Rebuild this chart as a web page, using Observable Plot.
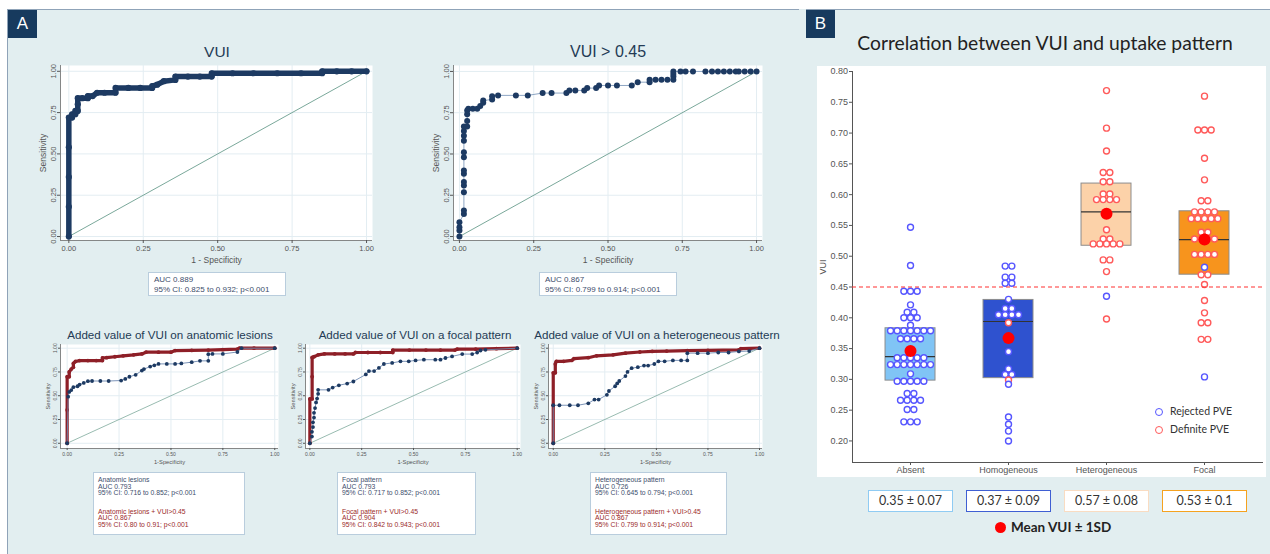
<!DOCTYPE html>
<html><head><meta charset="utf-8">
<script src="https://cdn.jsdelivr.net/npm/d3@7"></script>
<script src="https://cdn.jsdelivr.net/npm/@observablehq/plot@0.6"></script>
<style>
html,body{margin:0;padding:0}
body{width:1270px;height:554px;position:relative;overflow:hidden;background:#fff;font-family:"Liberation Sans",Arial,sans-serif}
.abs{position:absolute}
.panel{position:absolute;background:#e2eef0;border:1.5px solid #8fa3b8;box-sizing:border-box}
.tag{position:absolute;background:#173a5e;color:#fff;font-family:"Liberation Sans",Arial,sans-serif;font-size:17px;text-align:center;line-height:28px;width:29px;height:28px}
.rtitle{position:absolute;color:#243b55;white-space:nowrap;transform:translate(-50%,-50%)}
.aucbox{position:absolute;background:#fff;border:1px solid #b9cddd;box-sizing:border-box;color:#3d4d6b;white-space:nowrap}
.vbox{position:absolute;background:#fff;border:1.6px solid;box-sizing:border-box;text-align:center;font-family:Lato,"Open Sans",sans-serif;font-size:12.5px;color:#333;line-height:19px}
</style></head><body>
<script>
// ---------------- DATA ----------------
const rocTicks = [0, 0.25, 0.5, 0.75, 1];
const diagonal = [0, 1];

// Panel A, top: ROC points [1 - specificity, sensitivity]
const rocVUI = [[0,0],[0,0.18],[0,0.36],[0,0.54],[0,0.72],[0.011,0.72],[0.011,0.74],[0.022,0.74],[0.022,0.76],[0.03,0.76],[0.03,0.80],[0.03,0.837],[0.045,0.837],[0.064,0.837],[0.064,0.85],[0.08,0.85],[0.095,0.87],[0.12,0.87],[0.157,0.87],[0.157,0.899],[0.2,0.899],[0.24,0.899],[0.28,0.899],[0.28,0.91],[0.297,0.919],[0.319,0.94],[0.358,0.948],[0.358,0.968],[0.4,0.968],[0.44,0.968],[0.48,0.968],[0.48,0.988],[0.55,0.988],[0.62,0.988],[0.7,0.988],[0.78,0.988],[0.851,0.988],[0.851,1],[0.9,1],[0.95,1],[1,1]];
const rocVUI45 = [[0,0],[0,0.036],[0,0.057],[0,0.087],[0.015,0.137],[0.015,0.158],[0.015,0.269],[0.015,0.309],[0.015,0.33],[0.015,0.38],[0.015,0.40],[0.015,0.48],[0.015,0.51],[0.015,0.58],[0.015,0.61],[0.015,0.64],[0.015,0.667],[0.026,0.667],[0.026,0.70],[0.026,0.74],[0.026,0.764],[0.03,0.774],[0.045,0.774],[0.06,0.774],[0.07,0.79],[0.08,0.81],[0.08,0.824],[0.11,0.83],[0.11,0.85],[0.13,0.855],[0.19,0.855],[0.23,0.855],[0.28,0.869],[0.31,0.869],[0.36,0.869],[0.37,0.885],[0.39,0.885],[0.42,0.885],[0.43,0.899],[0.46,0.899],[0.47,0.915],[0.50,0.915],[0.53,0.915],[0.58,0.915],[0.60,0.935],[0.64,0.935],[0.64,0.949],[0.66,0.949],[0.68,0.949],[0.70,0.949],[0.72,0.949],[0.72,0.97],[0.72,0.985],[0.72,1],[0.744,1],[0.761,1],[0.786,1],[0.828,1],[0.85,1],[0.87,1],[0.89,1],[0.91,1],[0.93,1],[0.94,1],[0.96,1],[0.98,1],[1,1]];

// Panel A, bottom: pattern alone (blue) vs pattern + VUI>0.45 (red)
const anatomicAlone = [[0,0],[0.005,0.49],[0.01,0.54],[0.02,0.56],[0.03,0.59],[0.05,0.60],[0.06,0.617],[0.08,0.635],[0.10,0.653],[0.12,0.655],[0.16,0.655],[0.2,0.655],[0.26,0.66],[0.28,0.677],[0.30,0.70],[0.33,0.72],[0.36,0.765],[0.37,0.78],[0.40,0.807],[0.42,0.82],[0.44,0.835],[0.48,0.835],[0.52,0.835],[0.55,0.84],[0.60,0.853],[0.64,0.867],[0.68,0.867],[0.68,0.937],[0.70,0.94],[0.75,0.94],[0.82,0.96],[0.84,1],[1,1]];
const anatomicVUI = [[0,0],[0,0.35],[0,0.70],[0.01,0.70],[0.01,0.75],[0.02,0.78],[0.03,0.80],[0.03,0.84],[0.04,0.86],[0.06,0.87],[0.10,0.87],[0.14,0.87],[0.17,0.87],[0.17,0.898],[0.19,0.90],[0.23,0.91],[0.27,0.92],[0.32,0.93],[0.36,0.94],[0.38,0.958],[0.44,0.958],[0.50,0.958],[0.52,0.975],[0.6,0.977],[0.68,0.98],[0.75,0.985],[0.82,0.99],[0.83,1],[0.9,1],[1,1]];
const focalAlone = [[0,0],[0.01,0.07],[0.01,0.12],[0.015,0.17],[0.015,0.22],[0.02,0.27],[0.02,0.32],[0.025,0.37],[0.03,0.43],[0.035,0.47],[0.04,0.52],[0.04,0.562],[0.09,0.562],[0.11,0.586],[0.14,0.61],[0.18,0.628],[0.21,0.65],[0.27,0.724],[0.285,0.759],[0.31,0.759],[0.333,0.793],[0.357,0.834],[0.397,0.845],[0.437,0.862],[0.477,0.862],[0.51,0.872],[0.55,0.879],[0.605,0.879],[0.63,0.879],[0.654,0.897],[0.686,0.914],[0.735,0.938],[0.783,0.938],[0.807,0.955],[0.823,0.976],[0.847,0.983],[1,1]];
const focalVUI = [[0,0],[0,0.466],[0.011,0.466],[0.011,0.70],[0.011,0.903],[0.02,0.91],[0.04,0.93],[0.07,0.94],[0.12,0.94],[0.17,0.94],[0.21,0.94],[0.22,0.955],[0.28,0.955],[0.34,0.955],[0.40,0.955],[0.40,0.98],[0.48,0.98],[0.56,0.98],[0.63,0.98],[0.70,0.98],[0.71,0.99],[0.8,0.99],[0.9,0.995],[1,1]];
const heterogeneousAlone = [[0,0],[0,0.40],[0.03,0.40],[0.08,0.40],[0.12,0.40],[0.17,0.42],[0.20,0.46],[0.22,0.46],[0.26,0.51],[0.27,0.55],[0.30,0.60],[0.31,0.63],[0.32,0.655],[0.35,0.707],[0.36,0.75],[0.38,0.79],[0.41,0.80],[0.44,0.817],[0.46,0.817],[0.49,0.834],[0.51,0.862],[0.54,0.862],[0.58,0.872],[0.62,0.872],[0.65,0.872],[0.65,0.948],[0.70,0.948],[0.75,0.948],[0.80,0.955],[0.85,0.955],[0.90,0.966],[0.95,0.97],[1,1]];
const heterogeneousVUI = [[0,0],[0,0.40],[0,0.741],[0.01,0.741],[0.01,0.834],[0.015,0.862],[0.05,0.862],[0.09,0.872],[0.10,0.89],[0.17,0.90],[0.21,0.92],[0.29,0.93],[0.35,0.948],[0.42,0.96],[0.48,0.966],[0.55,0.97],[0.65,0.975],[0.75,0.978],[0.90,0.983],[0.91,0.995],[1,1]];

const topTitles = ["VUI", "VUI > 0.45"];
const topAUC = [["AUC 0.889","95% CI: 0.825 to 0.932; p<0.001"],["AUC 0.867","95% CI: 0.799 to 0.914; p<0.001"]];
const bottomTitles = ["Added value of VUI on anatomic lesions","Added value of VUI on a focal pattern","Added value of VUI on a heterogeneous pattern"];
const bottomAUCAlone = [["Anatomic lesions","AUC 0.793","95% CI: 0.716 to 0.852; p<0.001"],["Focal pattern","AUC 0.793","95% CI: 0.717 to 0.852; p<0.001"],["Heterogeneous pattern","AUC 0.726","95% CI: 0.645 to 0.794; p<0.001"]];
const bottomAUCVUI = [["Anatomic lesions + VUI>0.45","AUC 0.867","95% CI: 0.80 to 0.91; p<0.001"],["Focal pattern + VUI>0.45","AUC 0.904","95% CI: 0.842 to 0.943; p<0.001"],["Heterogeneous pattern + VUI>0.45","AUC 0.867","95% CI: 0.799 to 0.914; p<0.001"]];

// Panel B
const patterns = ["Absent","Homogeneous","Heterogeneous","Focal"];
const vuiQ1     = [0.298, 0.302, 0.517, 0.470];
const vuiMedian = [0.337, 0.394, 0.572, 0.527];
const vuiQ3     = [0.383, 0.429, 0.618, 0.573];
const vuiMean   = [0.346, 0.367, 0.569, 0.527];
const meanSD    = ["0.35 ± 0.07","0.37 ± 0.09","0.57 ± 0.08","0.53 ± 0.1"];
const vuiThreshold = 0.45;
const vuiTicks = [0.20,0.25,0.30,0.35,0.40,0.45,0.50,0.55,0.60,0.65,0.70,0.75,0.80];
// [VUI, number of lesions, "R" rejected PVE / "D" definite PVE]
const absentVUI = [[0.547,1,"R"],[0.485,1,"R"],[0.443,3,"R"],[0.421,1,"R"],[0.409,2,"R"],[0.400,3,"R"],[0.388,1,"R"],[0.379,7,"R"],[0.366,4,"R"],[0.335,5,"R"],[0.324,7,"R"],[0.309,1,"R"],[0.297,5,"R"],[0.277,2,"R"],[0.266,4,"R"],[0.251,2,"R"],[0.231,3,"R"]];
const homogeneousVUI = [[0.484,2,"R"],[0.466,2,"R"],[0.456,2,"R"],[0.430,1,"R"],[0.415,2,"R"],[0.405,4,"R"],[0.392,1,"D"],[0.345,1,"R"],[0.317,1,"R"],[0.308,2,"R"],[0.299,1,"D"],[0.292,1,"R"],[0.239,1,"R"],[0.227,1,"R"],[0.216,1,"R"],[0.200,1,"R"]];
const heterogeneousVUI_B = [[0.769,1,"D"],[0.708,1,"D"],[0.671,1,"D"],[0.636,2,"D"],[0.621,2,"D"],[0.601,2,"D"],[0.592,4,"D"],[0.543,1,"D"],[0.528,2,"D"],[0.520,5,"D"],[0.494,2,"D"],[0.475,1,"D"],[0.435,1,"R"],[0.398,1,"D"]];
const focalVUI_B = [[0.760,1,"D"],[0.705,3,"D"],[0.659,1,"D"],[0.624,1,"D"],[0.590,2,"D"],[0.572,4,"D"],[0.561,5,"D"],[0.539,2,"D"],[0.528,4,"D"],[0.503,4,"D"],[0.482,1,"R"],[0.470,2,"D"],[0.454,1,"D"],[0.428,1,"D"],[0.408,1,"D"],[0.392,2,"D"],[0.365,2,"D"],[0.304,1,"R"]];
const legendItems = ["Rejected PVE","Definite PVE"];

// ---------------- STYLE ----------------
const NAVY = "#1d3a62", MAROON = "#8e1f27", DIAG = "#6b9e8e";
const BLUE = "#5656ff", RED = "#ff5a5a";
const boxFills = ["#80c4f5","#2f52cf","#fcd2a9","#f7941d"];
const boxBorders = ["#8fcbf3","#3f5fd3","#f9dcc2","#f5a21f"];
const stataFont = "'Liberation Sans', Arial, sans-serif";

function add(el){document.body.appendChild(el);return el;}
function box(cls, css, html){const d=document.createElement("div");d.className=cls;Object.assign(d.style,css);if(html!=null)d.innerHTML=html;return add(d);}

// panels
box("panel",{left:"7px",top:"9px",width:"793px",height:"560px"});
box("panel",{left:"805px",top:"9px",width:"480px",height:"560px"});
box("abs",{left:"799px",top:"9px",width:"7px",height:"560px",background:"#e2eef0"});
box("tag",{left:"8px",top:"10px"},"A");
box("tag",{left:"806px",top:"10px"},"B");

function roc(o){
  const marks = [
    Plot.frame({fill:"white", stroke:null}),
    Plot.gridX(rocTicks,{stroke:"#e3edf2", strokeOpacity:1}),
    Plot.gridY(rocTicks,{stroke:"#e3edf2", strokeOpacity:1}),
    Plot.line(diagonal,{x:d=>d, y:d=>d, stroke:DIAG, strokeWidth:o.diagW}),
    Plot.ruleX([o.xd[0]],{stroke:"#6a6a6a", strokeWidth:0.8}),
    Plot.ruleY([o.yd[0]],{stroke:"#6a6a6a", strokeWidth:0.8}),
    Plot.axisX({ticks:rocTicks, tickFormat:".2f", tickSize:o.tick, tickPadding:o.pad, fontSize:o.fs, label:o.xLabel, labelAnchor:"center", labelArrow:"none", labelOffset:o.xlo}),
    Plot.axisY({ticks:rocTicks, tickFormat:".2f", tickSize:o.tick, tickPadding:o.pad, fontSize:o.fs, tickRotate:-90, label:"Sensitivity", labelAnchor:"center", labelArrow:"none", labelOffset:o.ylo})
  ];
  for (const s of o.series) {
    marks.push(Plot.line(s.data,{stroke:s.lineColor, strokeWidth:s.lw}));
    marks.push(Plot.dot(s.data,{fill:s.color, r:s.r, stroke:null}));
  }
  const svg = Plot.plot({
    width:o.w, height:o.h, marginLeft:o.ml, marginRight:o.mr, marginTop:o.mt, marginBottom:o.mb,
    x:{domain:o.xd}, y:{domain:o.yd},
    style:{background:"none", fontFamily:stataFont, color:"#555", overflow:"visible", fontSize:o.lfs+"px"},
    marks
  });
  svg.style.position="absolute"; svg.style.left=o.left+"px"; svg.style.top=o.top+"px";
  svg.querySelectorAll("[aria-label$='axis label'] text, [aria-label$='axis label']").forEach(t=>t.setAttribute("font-size", o.lfs));
  add(svg);
}

// top ROC charts
roc({left:22, top:60, w:358, h:205, ml:38, mr:8, mt:5, mb:25, xd:[-0.028,1.02], yd:[-0.024,1.035],
  fs:7.5, lfs:8.5, tick:3, pad:2, xlo:22, ylo:21, xLabel:"1 - Specificity", diagW:0.9,
  series:[{data:rocVUI, color:NAVY, lineColor:NAVY, lw:5.5, r:3.1}]});
roc({left:415, top:60, w:355, h:205, ml:38, mr:8, mt:5, mb:25, xd:[-0.02,1.02], yd:[-0.024,1.036],
  fs:7.5, lfs:8.5, tick:3, pad:2, xlo:22, ylo:21, xLabel:"1 - Specificity", diagW:0.9,
  series:[{data:rocVUI45, color:NAVY, lineColor:"#8ea6c4", lw:1, r:3}]});

// bottom ROC charts
const bottomSeries = [[anatomicVUI, anatomicAlone],[focalVUI, focalAlone],[heterogeneousVUI, heterogeneousAlone]];
const bottomLayout = [
  {left:30, ml:30, w:253, xd:[-0.032,1.018]},
  {left:275, ml:30, w:250, xd:[-0.021,1.016]},
  {left:518, ml:30, w:249, xd:[-0.023,1.0145]}
];
bottomLayout.forEach((L,i)=>{
  roc({left:L.left, top:340, w:L.w, h:125, ml:L.ml, mr:5, mt:4, mb:17, xd:L.xd, yd:[-0.055,1.039],
    fs:5, lfs:5.8, tick:2, pad:1.5, xlo:15, ylo:14.5, xLabel:"1-Specificity", diagW:0.7,
    series:[
      {data:bottomSeries[i][0], color:MAROON, lineColor:MAROON, lw:3.2, r:1.9},
      {data:bottomSeries[i][1], color:NAVY, lineColor:"#6d88b0", lw:0.9, r:1.9}
    ]});
});

// titles & AUC boxes panel A
box("rtitle",{left:"217px",top:"52px",fontSize:"15.5px"},topTitles[0]);
box("rtitle",{left:"608px",top:"52px",fontSize:"16px"},topTitles[1]);
[[148,138],[539,138]].forEach(([l,w],i)=>{
  box("aucbox",{left:l+"px",top:"272px",width:w+"px",height:"24px",fontSize:"8px",lineHeight:"10px",padding:"2px 0 0 5px"}, topAUC[i].join("<br>"));
});
[170,415,657].forEach((c,i)=>box("rtitle",{left:c+"px",top:"334px",fontSize:"11.6px"},bottomTitles[i]));
[[93,152],[337,139],[590,137]].forEach(([l,w],i)=>{
  const html = `<div style="color:#3d4d6b">${bottomAUCAlone[i].join("<br>")}</div><div style="color:#9b2a2a;margin-top:11.5px">${bottomAUCVUI[i].join("<br>")}</div>`;
  box("aucbox",{left:l+"px",top:"472px",width:w+"px",height:"63px",fontSize:"6.8px",lineHeight:"6.7px",padding:"4px 0 0 4px"}, html);
});

// ---------------- PANEL B ----------------
box("abs",{left:"817px",top:"66px",width:"449px",height:"411px",background:"#fff"});
box("abs",{left:"1045px",top:"42px",transform:"translate(-50%,-50%)",fontFamily:"Lato,'Open Sans',sans-serif",fontSize:"19.3px",color:"#222",whiteSpace:"nowrap"},"Correlation between VUI and uptake pattern");

const idx = patterns.map((_,i)=>i);
const halfBox = 0.255, dotStep = 0.068;
const dotRows = [absentVUI, homogeneousVUI, heterogeneousVUI_B, focalVUI_B].flatMap((rows,ci)=>
  rows.flatMap(([v,n,s])=>d3.range(n).map(k=>({ci,k,n,v,s}))));

const bplot = Plot.plot({
  width:449, height:411, marginLeft:35, marginRight:3, marginTop:5, marginBottom:15,
  x:{domain:[-0.592,3.602]}, y:{domain:[0.165,0.80]}, color:{type:"identity"},
  style:{background:"none", fontFamily:"Arial,'Liberation Sans',sans-serif", color:"#555", overflow:"visible"},
  marks:[
    Plot.rect(idx,{x1:i=>i-halfBox, x2:i=>i+halfBox, y1:i=>vuiQ1[i], y2:i=>vuiQ3[i], fill:i=>boxFills[i], stroke:"#8c8c8c", strokeWidth:1}),
    Plot.ruleY(idx,{y:i=>vuiMedian[i], x1:i=>i-halfBox, x2:i=>i+halfBox, stroke:"#333", strokeWidth:1.1}),
    Plot.ruleX([-0.592],{stroke:"#555", strokeWidth:1}),
    Plot.ruleY([0.165],{stroke:"#555", strokeWidth:1}),
    Plot.dot(dotRows,{x:d=>d.ci+(d.k-(d.n-1)/2)*dotStep, y:"v", r:3, fill:"white", stroke:d=>d.s==="R"?BLUE:RED, strokeWidth:1.4}),
    Plot.dot(idx,{x:i=>i, y:i=>vuiMean[i], r:6, fill:"#ff0000", stroke:null}),
    Plot.ruleY([vuiThreshold],{stroke:"#ff3030", strokeWidth:1.2, strokeDasharray:"4,3"}),
    Plot.axisX({ticks:idx, tickFormat:i=>patterns[i], tickSize:3, tickPadding:1.5, fontSize:9, label:null}),
    Plot.axisY({ticks:vuiTicks, tickFormat:".2f", tickSize:3, tickPadding:1.5, fontSize:9, label:"VUI", labelAnchor:"center", labelArrow:"none", labelOffset:33})
  ]
});
bplot.style.position="absolute"; bplot.style.left="817px"; bplot.style.top="66px";
add(bplot);

// in-plot legend
legendItems.forEach((t,i)=>{
  const c = i===0?BLUE:RED;
  box("abs",{left:"1155px",top:(408+i*18)+"px",width:"6px",height:"6px",borderRadius:"50%",border:"1.3px solid "+c});
  box("abs",{left:"1170px",top:(404+i*18)+"px",fontFamily:"Lato,'Open Sans',sans-serif",fontSize:"10.5px",color:"#333",whiteSpace:"nowrap",lineHeight:"14px"},t);
});

// mean ± SD boxes
[868,966,1064,1162].forEach((l,i)=>{
  box("vbox",{left:l+"px",top:"490px",width:"85px",height:"22px",borderColor:boxBorders[i]}, meanSD[i]);
});
box("abs",{left:"995px",top:"522px",width:"11px",height:"11px",borderRadius:"50%",background:"#ff0000"});
box("abs",{left:"1011px",top:"518px",fontFamily:"Lato,'Open Sans',sans-serif",fontWeight:"bold",fontSize:"13.5px",color:"#222",whiteSpace:"nowrap",lineHeight:"18px"},"Mean VUI ± 1SD");
</script>
</body></html>
